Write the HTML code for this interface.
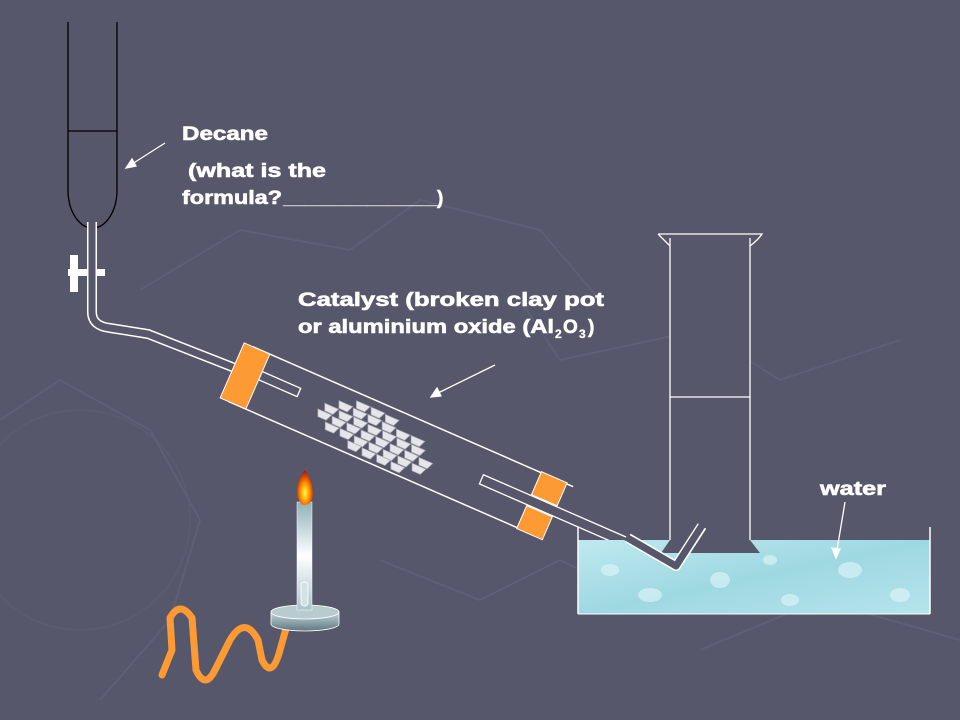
<!DOCTYPE html>
<html><head><meta charset="utf-8"><style>
html,body{margin:0;padding:0;background:#56576a;}
svg{display:block}
text{font-family:"Liberation Sans",Arial,sans-serif;font-weight:bold;fill:#fff;font-size:19px;stroke:#fff;stroke-width:0.6}
</style></head><body>
<svg width="960" height="720" viewBox="0 0 960 720" xmlns="http://www.w3.org/2000/svg">
<defs>
<linearGradient id="bt" x1="0" x2="0" y1="0" y2="1"><stop offset="0" stop-color="#8fb0b8"/><stop offset="0.5" stop-color="#ffffff"/><stop offset="1" stop-color="#a8c4ca"/></linearGradient>
<linearGradient id="bb" x1="0" x2="0" y1="0" y2="1"><stop offset="0" stop-color="#c4d6da"/><stop offset="1" stop-color="#5d7880"/></linearGradient>
<radialGradient id="fl" cx="0.5" cy="0.65" r="0.6"><stop offset="0" stop-color="#ffff40"/><stop offset="0.5" stop-color="#ff8a00"/><stop offset="1" stop-color="#b01800"/></radialGradient>
<linearGradient id="wt" x1="0" x2="1" y1="0" y2="1"><stop offset="0" stop-color="#bfe9f0"/><stop offset="0.5" stop-color="#9fd8e2"/><stop offset="1" stop-color="#b5e4ec"/></linearGradient>
<path id="c" d="M0 0 L15 0 L12 7 L3 7 Z"/>
</defs>
<g stroke="#62637a" stroke-width="2" fill="none" opacity="0.7">
<path d="M0 420 L60 380 L150 430 L200 520 L170 620 L100 700"/>
<path d="M140 290 L240 230 L350 250 L420 200 L540 230 L600 300"/>
<path d="M520 300 L560 360 L700 330 L780 380 L900 340"/>
<path d="M700 650 L820 600 L960 640"/>
<path d="M380 560 L480 600 L560 560 L640 600"/>
<circle cx="80" cy="520" r="110" opacity="0.5"/>
</g>
<g stroke="#000" stroke-width="1.3" fill="none">
<line x1="68" y1="22" x2="68" y2="190"/>
<line x1="117" y1="22" x2="117" y2="190"/>
<line x1="68" y1="131" x2="117" y2="131"/>
<path d="M68 190 A24.5 38 0 0 0 117 190"/>
</g>
<rect x="68" y="269" width="37" height="7" fill="#fff"/>
<rect x="70" y="255" width="8" height="37" fill="#fff"/>
<path d="M92 222 L92 312 Q92 326 110 328 L148 334 L245 372" fill="none" stroke="#fff" stroke-width="10"/>
<path d="M92 221 L92 312 Q92 326 110 328 L148 334 L245 372" fill="none" stroke="#56576a" stroke-width="7"/>
<g transform="translate(245,376) rotate(23.6)">
<line x1="-5" y1="-30" x2="345" y2="-30" stroke="#fff" stroke-width="1.5"/>
<line x1="-5" y1="30" x2="338" y2="30" stroke="#fff" stroke-width="1.5"/>
<rect x="14" y="-11" width="42" height="9" fill="#56576a" stroke="#fff" stroke-width="1.3"/>
<rect x="-14" y="-30" width="28" height="60" fill="#fd9a33" stroke="#fff" stroke-width="1"/>
<rect x="258" y="-5" width="164" height="10" fill="#56576a" stroke="#fff" stroke-width="1.3"/>
<rect x="310" y="-31" width="28" height="25" fill="#fd9a33" stroke="#fff" stroke-width="1"/>
<rect x="310" y="6" width="28" height="25" fill="#fd9a33" stroke="#fff" stroke-width="1"/>
<g fill="#e6e6ea" stroke="#a8a8b2" stroke-width="0.7">
<use href="#c" x="112" y="-22"/><use href="#c" x="128" y="-22"/><use href="#c" x="144" y="-21"/>
<use href="#c" x="96" y="-15"/><use href="#c" x="112" y="-14"/><use href="#c" x="128" y="-14"/><use href="#c" x="144" y="-13"/><use href="#c" x="160" y="-12"/><use href="#c" x="176" y="-12"/>
<use href="#c" x="84" y="-7"/><use href="#c" x="100" y="-6"/><use href="#c" x="116" y="-6"/><use href="#c" x="132" y="-5"/><use href="#c" x="148" y="-5"/><use href="#c" x="164" y="-4"/><use href="#c" x="180" y="-4"/>
<use href="#c" x="80" y="1"/><use href="#c" x="96" y="2"/><use href="#c" x="112" y="2"/><use href="#c" x="128" y="3"/><use href="#c" x="144" y="3"/><use href="#c" x="160" y="4"/><use href="#c" x="176" y="4"/><use href="#c" x="192" y="5"/>
<use href="#c" x="92" y="10"/><use href="#c" x="108" y="10"/><use href="#c" x="124" y="11"/><use href="#c" x="140" y="11"/><use href="#c" x="156" y="12"/><use href="#c" x="172" y="12"/><use href="#c" x="188" y="13"/>
<use href="#c" x="120" y="18"/><use href="#c" x="136" y="19"/><use href="#c" x="152" y="19"/><use href="#c" x="168" y="20"/>
</g>
</g>
<rect x="578" y="540" width="352" height="74" fill="url(#wt)"/>
<g fill="#d8f3f7" opacity="0.7">
<ellipse cx="610" cy="570" rx="9" ry="6"/><ellipse cx="650" cy="595" rx="12" ry="7"/><ellipse cx="720" cy="580" rx="10" ry="8"/><ellipse cx="790" cy="600" rx="9" ry="6"/><ellipse cx="850" cy="570" rx="12" ry="8"/><ellipse cx="900" cy="595" rx="10" ry="7"/><ellipse cx="770" cy="560" rx="7" ry="5"/>
</g>
<line x1="578" y1="527" x2="578" y2="614" stroke="#fff" stroke-width="1.5"/>
<line x1="930" y1="527" x2="930" y2="614" stroke="#fff" stroke-width="1.5"/>
<line x1="578" y1="614" x2="930" y2="614" stroke="#fff" stroke-width="1"/>
<path d="M670 238 L670 540 L661 553 L760 553 L750 540 L750 238 Z" fill="#56576a"/>
<line x1="670" y1="238" x2="670" y2="540" stroke="#fff" stroke-width="1.3"/>
<line x1="750" y1="238" x2="750" y2="540" stroke="#fff" stroke-width="1.3"/>
<line x1="670" y1="397" x2="750" y2="397" stroke="#fff" stroke-width="1.3"/>
<path d="M658 234 L762 234 Q758 240 750 246 M658 234 Q664 240 670 246" fill="none" stroke="#fff" stroke-width="1.3"/>
<path d="M628 538 L676 566 L702 526" fill="none" stroke="#fff" stroke-width="10" stroke-linejoin="round"/>
<path d="M626 537 L676 566 L703 524" fill="none" stroke="#56576a" stroke-width="7" stroke-linejoin="round"/>
<path d="M162 675 L172 650 L170 618 Q180 600 192 618 L196 670 Q205 690 215 670 L230 640 Q245 615 258 640 L262 660 Q272 680 280 650 L287 625" fill="none" stroke="#fd9a33" stroke-width="7" stroke-linecap="round" stroke-linejoin="round"/>
<path d="M271 612 L271 624 A34 7 0 0 0 339 624 L339 612 Z" fill="url(#bb)" stroke="#fff" stroke-width="0.8"/>
<ellipse cx="305" cy="612" rx="34" ry="7" fill="#b8ccd0" stroke="#fff" stroke-width="0.8"/>
<rect x="297" y="502" width="15" height="108" fill="url(#bt)" stroke="#fff" stroke-width="0.5"/>
<rect x="301" y="582" width="7" height="24" rx="3" fill="#d4e2e4" stroke="#fff" stroke-width="0.8"/>
<path d="M305 470 Q296 482 297 494 Q300 506 305 505 Q313 504 313 492 Q312 480 305 470 Z" fill="url(#fl)"/>
<text x="182" y="140" textLength="86" lengthAdjust="spacingAndGlyphs">Decane</text>
<text x="188" y="177" textLength="138" lengthAdjust="spacingAndGlyphs">(what is the</text>
<text x="182" y="204" textLength="100" lengthAdjust="spacingAndGlyphs">formula?</text>
<text x="283" y="204" style="stroke-width:0">_______________</text>
<text x="437" y="204">)</text>
<text x="298" y="306" textLength="306" lengthAdjust="spacingAndGlyphs">Catalyst (broken clay pot</text>
<text x="298" y="333" textLength="256" lengthAdjust="spacingAndGlyphs">or aluminium oxide (Al</text>
<text x="555" y="338" style="font-size:12px;stroke-width:0.3">2</text>
<text x="563" y="333">O</text>
<text x="579" y="338" style="font-size:12px;stroke-width:0.3">3</text>
<text x="588" y="333">)</text>
<text x="820" y="495" textLength="66" lengthAdjust="spacingAndGlyphs">water</text>
<g stroke="#fff" stroke-width="1.3" fill="#fff">
<line x1="165" y1="143" x2="132" y2="164"/><path d="M126 168 L132 159 L136 166 Z"/>
<line x1="495" y1="365" x2="438" y2="393"/><path d="M431 397 L437 388 L441 396 Z"/>
<line x1="845" y1="502" x2="837" y2="550"/><path d="M836 558 L832 548 L840 549 Z"/>
</g>
</svg>
</body></html>
